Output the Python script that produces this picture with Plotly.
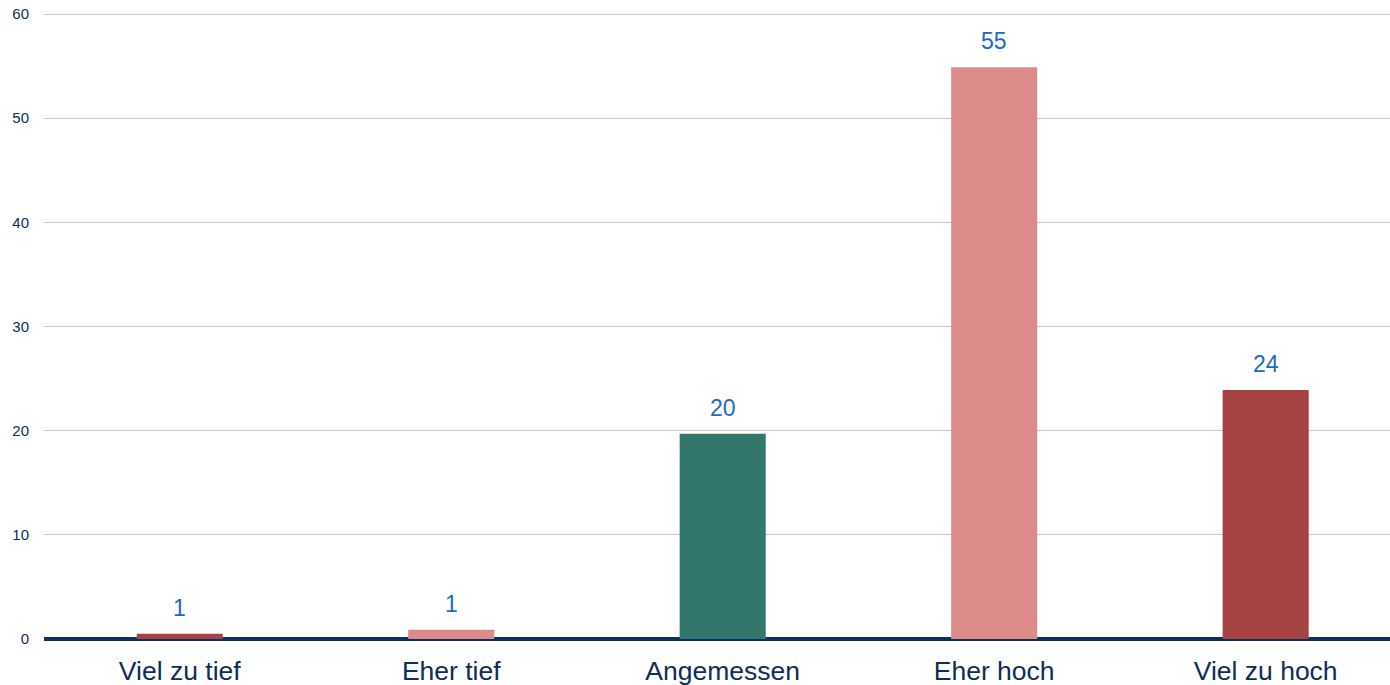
import plotly.graph_objects as go

categories = ["Viel zu tief", "Eher tief", "Angemessen", "Eher hoch", "Viel zu hoch"]
values = [0.5, 0.9, 19.7, 54.9, 23.9]
labels = ["1", "1", "20", "55", "24"]
colors = ["#a64444", "#dd8a8a", "#33766b", "#dd8a8a", "#a64444"]
y_ticks = [0, 10, 20, 30, 40, 50, 60]

fig = go.Figure()
fig.add_trace(go.Bar(
    x=categories, y=values, marker=dict(color=colors, line=dict(width=0)),
    width=0.317, hoverinfo="skip",
))
for c, v, t in zip(categories, values, labels):
    fig.add_annotation(x=c, y=v, text=t, showarrow=False, yanchor="bottom", yshift=11,
                       font=dict(family="Arial, Liberation Sans", size=23, color="#1a6ac4"))

fig.update_layout(
    width=1390, height=685,
    margin=dict(l=44, r=0, t=13, b=46, autoexpand=False),
    paper_bgcolor="white", plot_bgcolor="white",
    showlegend=False,
    font=dict(family="Arial, Liberation Sans", color="#0d2d5a"),
)
fig.update_xaxes(
    range=[-0.5, 4.458], automargin=False,
    tickfont=dict(size=26.5, color="#0d2d5a"), showgrid=False, ticks="",
    showline=False, ticklabelstandoff=13,
)
fig.update_yaxes(
    range=[0, 60.1], tickvals=y_ticks, tickfont=dict(size=15, color="#0d2d5a"),
    automargin=False, ticklabeloverflow="allow",
    showgrid=True, gridcolor="#c8c8c8", gridwidth=1, zeroline=True,
    zerolinecolor="#0b2f5e", zerolinewidth=4, ticks="", ticklabelstandoff=14,
)
fig.write_html("out.html", config={"displayModeBar": False},
               post_script="document.body.style.margin='0';")
